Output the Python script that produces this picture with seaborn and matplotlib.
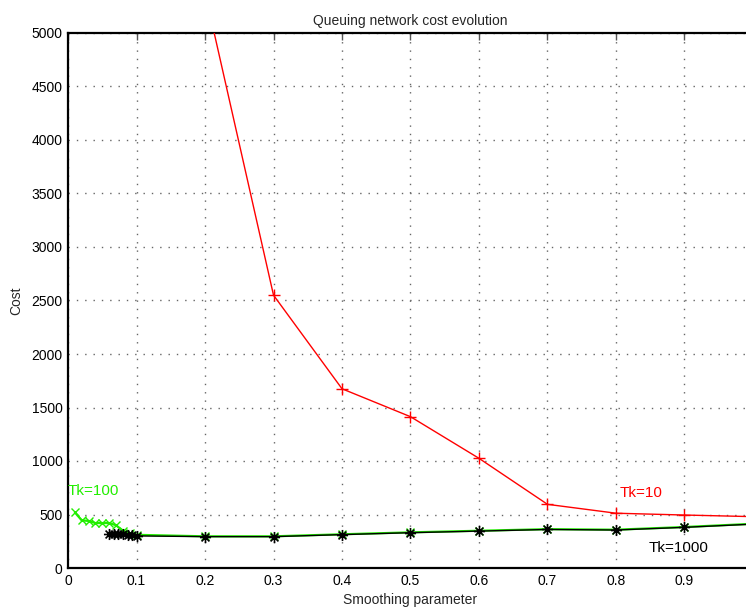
import matplotlib
matplotlib.use("Agg")
import matplotlib.pyplot as plt
from matplotlib.path import Path
import seaborn as sns
import pandas as pd

# Cost of the queuing network vs. smoothing parameter for three Tk settings
x_tk10 = [0.2, 0.3, 0.4, 0.5, 0.6, 0.7, 0.8, 0.9, 1.0]
cost_tk10 = [5380, 2550, 1675, 1414, 1025, 595, 512, 495, 480]

x_tk100 = [0.01, 0.02, 0.03, 0.04, 0.05, 0.06, 0.07, 0.08, 0.09, 0.1,
           0.2, 0.3, 0.4, 0.5, 0.6, 0.7, 0.8, 0.9, 1.0]
cost_tk100 = [520, 445, 440, 420, 420, 420, 400, 350, 325, 310,
              296, 296, 315, 333, 348, 363, 358, 383, 413]

x_tk1000 = [0.06, 0.067, 0.073, 0.08, 0.087, 0.093, 0.1,
            0.2, 0.3, 0.4, 0.5, 0.6, 0.7, 0.8, 0.9, 1.0]
cost_tk1000 = [322, 322, 320, 318, 312, 305, 300,
               293, 293, 312, 330, 345, 360, 355, 380, 410]

x_ticks = [0, 0.1, 0.2, 0.3, 0.4, 0.5, 0.6, 0.7, 0.8, 0.9, 1]
x_tick_labels = ["0", "0.1", "0.2", "0.3", "0.4", "0.5", "0.6", "0.7", "0.8", "0.9", "1"]
y_ticks = [0, 500, 1000, 1500, 2000, 2500, 3000, 3500, 4000, 4500, 5000]

sns.set_style("white")
plt.rcParams["font.family"] = ["Liberation Sans", "DejaVu Sans"]
plt.rcParams["font.size"] = 10

# asterisk marker: a plus and a cross drawn together
d = 0.707
asterisk = Path(
    [(-1, 0), (1, 0), (0, -1), (0, 1), (-d, -d), (d, d), (-d, d), (d, -d)],
    [Path.MOVETO, Path.LINETO] * 4,
)

fig = plt.figure(figsize=(7.46, 6.07), dpi=100)
ax = fig.add_axes([68 / 746, 39 / 607, 685 / 746, 535 / 607])

df10 = pd.DataFrame({"x": x_tk10, "cost": cost_tk10})
df100 = pd.DataFrame({"x": x_tk100, "cost": cost_tk100})
df1000 = pd.DataFrame({"x": x_tk1000, "cost": cost_tk1000})

red = "#ff0000"
green = "#22ee00"

sns.lineplot(data=df10, x="x", y="cost", ax=ax, color=red, lw=1.0,
             marker="+", markersize=9, markeredgewidth=1.0,
             markeredgecolor=red, estimator=None, sort=False, zorder=3)
sns.lineplot(data=df100, x="x", y="cost", ax=ax, color=green, lw=1.6,
             marker="x", markersize=6, markeredgewidth=1.0,
             markeredgecolor=green, estimator=None, sort=False, zorder=3)
sns.lineplot(data=df1000, x="x", y="cost", ax=ax, color="black", lw=1.0,
             marker=asterisk, markersize=8, markeredgewidth=1.2,
             markeredgecolor="black", markerfacecolor="none",
             estimator=None, sort=False, zorder=4)

ax.text(0.0, 720, "Tk=100", color=green, fontsize=11, ha="left", va="center")
ax.text(0.806, 700, "Tk=10", color=red, fontsize=11, ha="left", va="center")
ax.text(0.847, 187, "Tk=1000", color="black", fontsize=11, ha="left", va="center")

ax.set_xlim(0, 1)
ax.set_ylim(0, 5000)
ax.set_xticks(x_ticks)
ax.set_xticklabels(x_tick_labels)
ax.set_yticks(y_ticks)
ax.set_yticklabels([str(v) for v in y_ticks])

ax.grid(True, linestyle=(0, (1, 5)), color="#666666", linewidth=1.0)
ax.tick_params(direction="in", length=5, width=1, colors="#555555",
               labelcolor="black", top=True, right=True, labelsize=10, pad=4)
for side in ["left", "bottom", "top", "right"]:
    ax.spines[side].set_visible(True)
    ax.spines[side].set_color("black")
    ax.spines[side].set_linewidth(1.6)

ax.set_title("Queuing network cost evolution", fontsize=10, pad=6)
ax.set_xlabel("Smoothing parameter", fontsize=10, labelpad=4)
ax.set_ylabel("Cost", fontsize=10, labelpad=6)

fig.savefig("out.png", dpi=100)
